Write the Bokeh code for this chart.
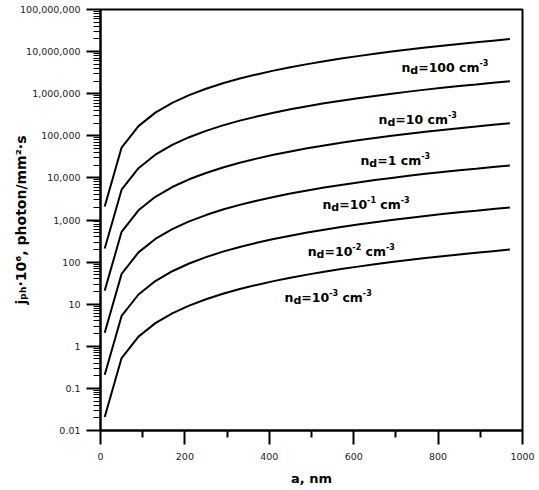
import math
from bokeh.plotting import figure
from bokeh.models import FixedTicker, CustomJSTickFormatter, Label
from bokeh.embed import file_html
from bokeh.resources import INLINE

# ---------------- data ----------------
a_nm = [10, 50, 90, 130, 170, 210, 250, 290, 330, 370, 410, 450, 490,
        530, 570, 610, 650, 690, 730, 770, 810, 850, 890, 930, 970]

j_nd_1e_3 = [0.021, 0.525, 1.70, 3.55, 6.07, 9.26, 13.1, 17.7, 22.9, 28.7, 35.3, 42.5, 50.4,
             59.0, 68.2, 78.1, 88.7, 100, 112, 125, 138, 152, 166, 182, 198]
j_nd_1e_2 = [0.21, 5.25, 17.0, 35.5, 60.7, 92.6, 131, 177, 229, 287, 353, 425, 504,
             590, 682, 781, 887, 1000, 1120, 1250, 1380, 1520, 1660, 1820, 1980]
j_nd_1e_1 = [2.1, 52.5, 170, 355, 607, 926, 1310, 1770, 2290, 2870, 3530, 4250, 5040,
             5900, 6820, 7810, 8870, 10000, 11200, 12500, 13800, 15200, 16600, 18200, 19800]
j_nd_1 = [21, 525, 1700, 3550, 6070, 9260, 13100, 17700, 22900, 28700, 35300, 42500, 50400,
          59000, 68200, 78100, 88700, 100000, 112000, 125000, 138000, 152000, 166000, 182000, 198000]
j_nd_10 = [210, 5250, 17000, 35500, 60700, 92600, 131000, 177000, 229000, 287000, 353000, 425000, 504000,
           590000, 682000, 781000, 887000, 1.0e6, 1.12e6, 1.25e6, 1.38e6, 1.52e6, 1.66e6, 1.82e6, 1.98e6]
j_nd_100 = [2100, 52500, 170000, 355000, 607000, 926000, 1.31e6, 1.77e6, 2.29e6, 2.87e6, 3.53e6, 4.25e6, 5.04e6,
            5.9e6, 6.82e6, 7.81e6, 8.87e6, 1.0e7, 1.12e7, 1.25e7, 1.38e7, 1.52e7, 1.66e7, 1.82e7, 1.98e7]

series = [j_nd_100, j_nd_10, j_nd_1, j_nd_1e_1, j_nd_1e_2, j_nd_1e_3]

# curve label texts: mantissa, exponent (None if none)
nd_mant = ["100", "10", "1", "10", "10", "10"]
nd_exp = [None, None, None, "-1", "-2", "-3"]
unit_exp = "-3"

x_ticks = [0, 200, 400, 600, 800, 1000]
x_minor = [100, 300, 500, 700, 900]
y_ticks = [0.01, 0.1, 1, 10, 100, 1000, 1e4, 1e5, 1e6, 1e7, 1e8]
y_minor = [k * 10.0 ** n for n in range(-2, 8) for k in range(2, 10)]

x_label = "a, nm"
y_label = "j\u209a\u2095\u00b710\u2076, photon/mm\u00b2\u00b7s"

# ---------------- layout / style ----------------
FONT = "DejaVu Sans"
# DejaVu Sans Bold advance widths (per 1000 em)
W_BOLD = {"a": 675, "c": 593, "d": 716, "h": 712, "j": 343, "m": 1042, "n": 712,
          "o": 687, "p": 716, "s": 595, "t": 478, " ": 348, ",": 380, "=": 838,
          "-": 415, "/": 365, "\u00b7": 380}
for dch in "0123456789":
    W_BOLD[dch] = 696


def width(s, size):
    return sum(W_BOLD.get(ch, 650) for ch in s) * size / 1000.0


p = figure(width=537, height=488, x_range=(0, 1000), y_range=(0.01, 1e8),
           y_axis_type="log", output_backend="svg", toolbar_location=None,
           min_border_left=100, min_border_right=15, min_border_top=9,
           min_border_bottom=58)

p.background_fill_color = "white"
p.border_fill_color = "white"
p.outline_line_color = "black"
p.outline_line_width = 2
p.outline_line_alpha = 1.0
p.xgrid.visible = False
p.ygrid.visible = False

p.xaxis.ticker = FixedTicker(ticks=x_ticks, minor_ticks=x_minor)
p.yaxis.ticker = FixedTicker(ticks=y_ticks, minor_ticks=y_minor)
p.yaxis.formatter = CustomJSTickFormatter(code="""
if (tick >= 1) {
  const s = Math.round(tick).toString();
  return s.replace(/\\B(?=(\\d{3})+(?!\\d))/g, ",");
}
return String(Number(tick.toPrecision(3)));
""")

for ax in (p.xaxis[0], p.yaxis[0]):
    ax.axis_line_color = "black"
    ax.axis_line_width = 2
    ax.major_tick_line_color = "black"
    ax.major_tick_line_width = 2
    ax.major_tick_out = 14
    ax.major_tick_in = 0
    ax.minor_tick_line_color = "black"
    ax.minor_tick_out = 7
    ax.minor_tick_in = 0
    ax.major_label_text_font = FONT
    ax.major_label_text_font_size = "9.5px"
    ax.major_label_text_color = "#222222"
    ax.axis_label_text_font = FONT
    ax.axis_label_text_font_style = "bold"
    ax.axis_label_text_color = "black"
p.xaxis.minor_tick_line_width = 2
p.yaxis.minor_tick_line_width = 1
p.xaxis.major_label_standoff = 8
p.yaxis.major_label_standoff = 6

p.xaxis.axis_label = x_label
p.xaxis.axis_label_text_font_size = "13px"
p.xaxis.axis_label_standoff = 8
p.yaxis.axis_label = y_label
p.yaxis.axis_label_text_font_size = "14px"
p.yaxis.axis_label_standoff = -12

for vals in series:
    p.line(a_nm, vals, line_color="black", line_width=2)


def rich(pieces, x, y):
    """pieces: (text, size, shift, style). shift>0 = superscript, <0 = subscript."""
    pos = 0.0
    for text, size, shift, style in pieces:
        lead = len(text) - len(text.lstrip(" "))
        pos += width(" " * lead, size)
        text = text.lstrip(" ")
        p.add_layout(Label(x=x, y=y, x_units="data", y_units="data", text=text,
                           x_offset=pos, y_offset=shift,
                           text_font=FONT, text_font_size=f"{size}px",
                           text_font_style=style, text_color="black",
                           text_align="left", text_baseline="middle"))
        pos += width(text, size)


label_pos = [(713, 4.17e6), (659, 2.44e5), (616, 2.59e4), (526, 2.33e3), (491, 179), (436, 14.4)]
MS, SS, PS = 12.5, 11, 8
for (lx, ly), mant, ex in zip(label_pos, nd_mant, nd_exp):
    pcs = [("n", MS, 0, "bold"), ("d", SS, -3, "bold")]
    if ex is None:
        pcs += [("=" + mant + " cm", MS, 0, "bold")]
    else:
        pcs += [("=" + mant, MS, 0, "bold"), (ex, PS, 5, "bold"), (" cm", MS, 0, "bold")]
    pcs += [(unit_exp, PS, 5, "bold")]
    rich(pcs, lx, ly)

open("out.html", "w").write(file_html(p, INLINE))
